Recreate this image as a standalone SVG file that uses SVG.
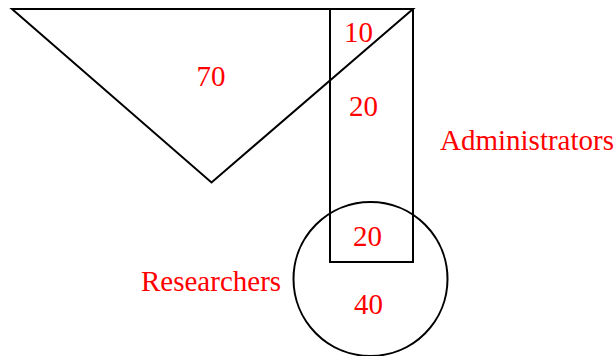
<svg xmlns="http://www.w3.org/2000/svg" width="615" height="356" viewBox="0 0 615 356">
<style>
.shape{fill:none;stroke:#000;stroke-width:2}
.lbl{font-family:"Liberation Serif","Times New Roman",serif;font-size:29px;fill:#ff0000}
.mid{text-anchor:middle}
</style>
<rect width="615" height="356" fill="#fff"/>
<g id="triangle">
<polygon class="shape" points="12,9 413,9 211.5,182.5"/>
<text class="lbl mid" x="211" y="85.5">70</text>
</g>
<g id="administrators">
<rect class="shape" x="330" y="9" width="83" height="253"/>
<text class="lbl" x="440" y="150">Administrators</text>
</g>
<g id="researchers">
<circle class="shape" cx="370.5" cy="279" r="77"/>
<text class="lbl" x="141" y="290.5">Researchers</text>
</g>
<g id="regions">
<text class="lbl mid" x="358.5" y="42">10</text>
<text class="lbl mid" x="363.5" y="115.5">20</text>
<text class="lbl mid" x="367.5" y="246">20</text>
<text class="lbl mid" x="368.5" y="314">40</text>
</g>
<g id="connectors"/>
</svg>
